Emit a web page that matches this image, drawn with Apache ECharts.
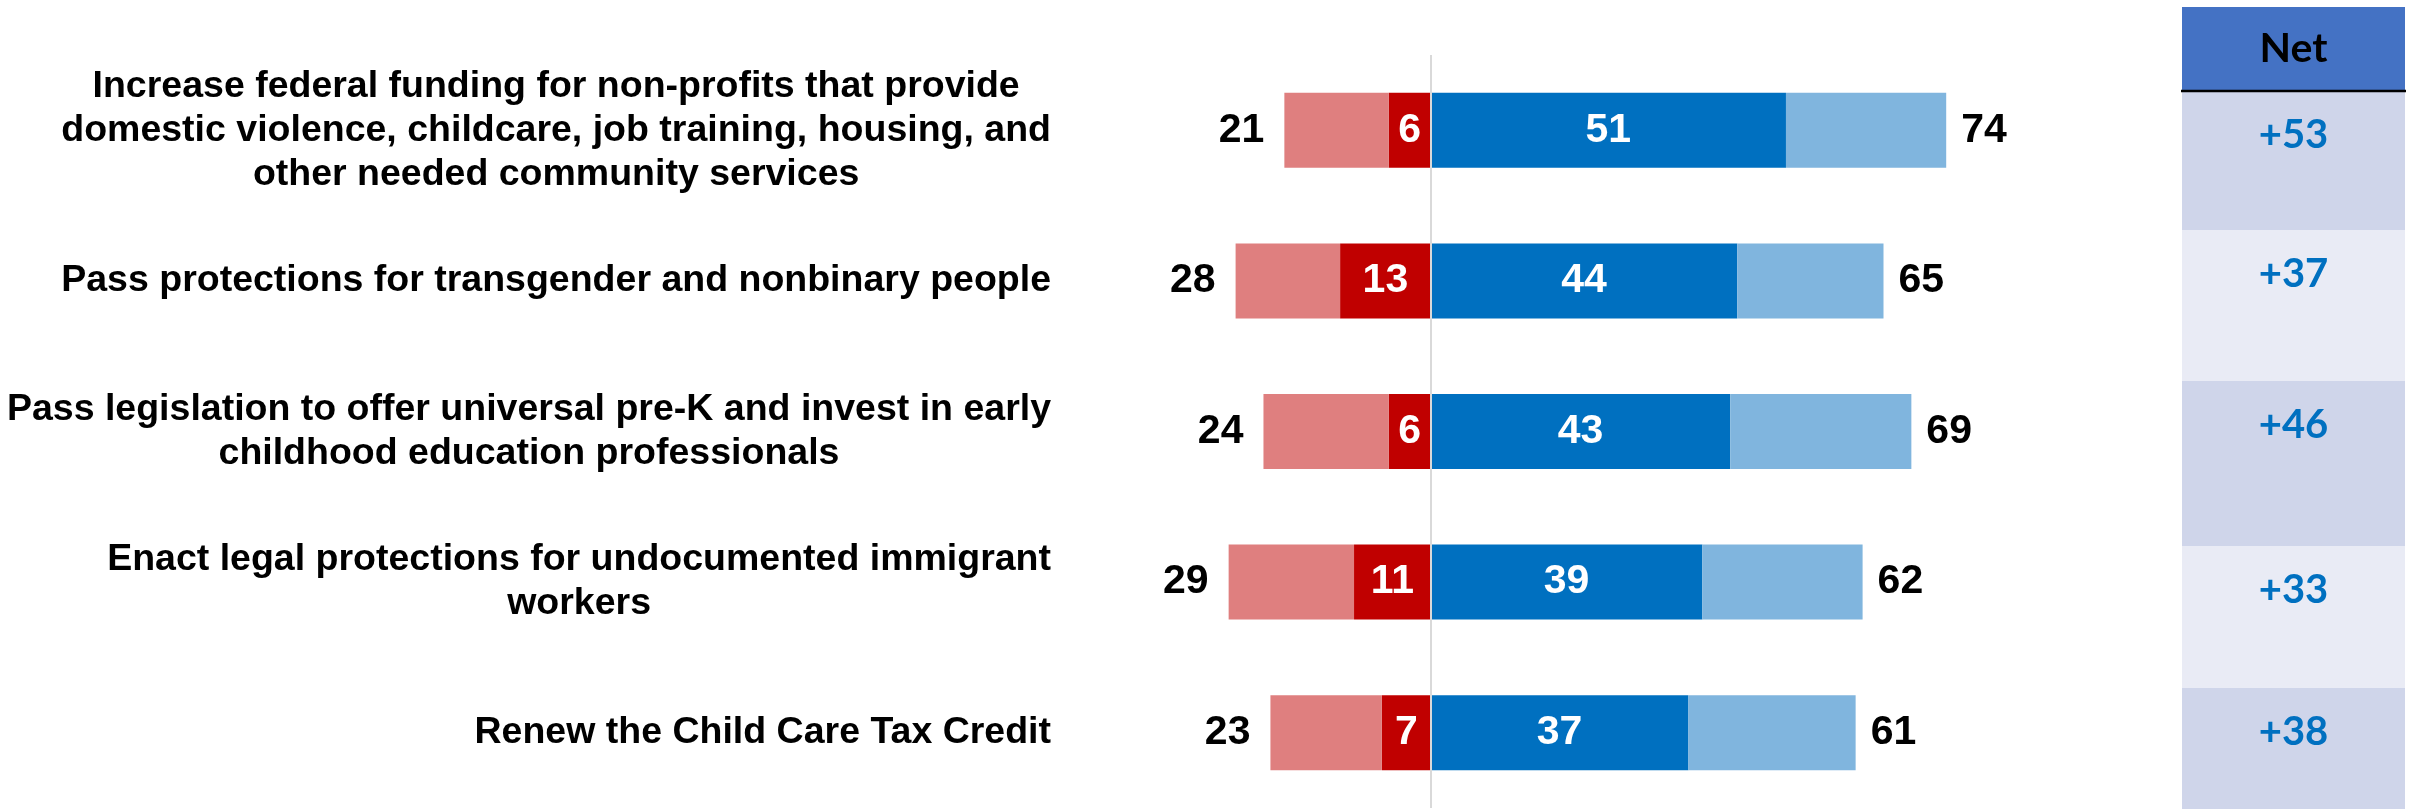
<!DOCTYPE html>
<html>
<head>
<meta charset="utf-8">
<script src="https://cdn.jsdelivr.net/npm/echarts@6/dist/echarts.min.js"></script>
<style>
  html, body { margin: 0; padding: 0; background: #ffffff; }
  #chart { width: 2413px; height: 809px; }
</style>
</head>
<body>
<div id="chart"></div>
<script>
// Policy statements (line breaks as they wrap on the slide)
const categories = [
  'Increase federal funding for non-profits that provide\ndomestic violence, childcare, job training, housing, and\nother needed community services',
  'Pass protections for transgender and nonbinary people',
  'Pass legislation to offer universal pre-K and invest in early\nchildhood education professionals',
  'Enact legal protections for undocumented immigrant\nworkers',
  'Renew the Child Care Tax Credit'
];

// Percentages
const strongOppose  = [6, 13, 6, 11, 7];
const totalOppose   = [21, 28, 24, 29, 23];
const strongSupport = [51, 44, 43, 39, 37];
const totalSupport  = [74, 65, 69, 62, 61];
const netScores     = [53, 37, 46, 33, 38];
const netHeader = 'Net';

// Derived segments: the lighter parts are total minus strong
const somewhatOppose  = totalOppose.map((v, i) => v - strongOppose[i]);
const somewhatSupport = totalSupport.map((v, i) => v - strongSupport[i]);

const NUM_FONT = '"Liberation Sans", Arial, sans-serif';
const NET_FONT = 'Lato, "Open Sans", sans-serif';

const valueLabel = {
  fontFamily: NUM_FONT,
  fontWeight: 'bold',
  fontSize: 41
};

// Net table layout (pixel rows of the side table)
const tableX = 2182, tableW = 223;
const headerTop = 7, headerBottom = 91;
const rowEdges = [91, 230, 381, 546, 688, 809];
const rowFills = ['#CFD5EA', '#E9EBF5'];

const chart = echarts.init(document.getElementById('chart'), null, { renderer: 'canvas' });

const tableGraphics = [];
tableGraphics.push({
  type: 'rect',
  shape: { x: tableX, y: headerTop, width: tableW, height: headerBottom - headerTop },
  style: { fill: '#4472C4' },
  silent: true
});
tableGraphics.push({
  type: 'text',
  x: tableX + tableW / 2,
  y: (headerTop + headerBottom) / 2,
  style: {
    text: netHeader, fill: '#000000', font: 'bold 41px ' + NET_FONT,
    textAlign: 'center', textVerticalAlign: 'middle'
  },
  silent: true
});
netScores.forEach((v, i) => {
  const top = rowEdges[i], bottom = rowEdges[i + 1];
  tableGraphics.push({
    type: 'rect',
    shape: { x: tableX, y: top, width: tableW, height: bottom - top },
    style: { fill: rowFills[i % 2] },
    silent: true
  });
  tableGraphics.push({
    type: 'text',
    x: tableX + tableW / 2,
    y: top + 44,
    style: {
      text: (v > 0 ? '+' : '') + v, fill: '#0070C0', font: 'bold 40px ' + NET_FONT,
      textAlign: 'center', textVerticalAlign: 'middle'
    },
    silent: true
  });
});
tableGraphics.push({
  type: 'line',
  shape: { x1: tableX - 1, y1: headerBottom, x2: tableX + tableW + 1, y2: headerBottom },
  style: { stroke: '#000000', lineWidth: 2.5 },
  silent: true
});

const option = {
  animation: false,
  backgroundColor: '#ffffff',
  grid: { left: 1152, width: 836, top: 55, bottom: 1, containLabel: false },
  xAxis: {
    type: 'value', min: -40, max: 80,
    show: false
  },
  yAxis: {
    type: 'category',
    inverse: true,
    data: categories,
    axisLine: { show: false },
    axisTick: { show: false },
    splitLine: { show: false },
    axisLabel: {
      interval: 0,
      margin: 101,
      formatter: (val) => '{c|' + val + '}',
      rich: {
        c: {
          align: 'center',
          fontFamily: NUM_FONT,
          fontWeight: 'bold',
          fontSize: 37.5,
          lineHeight: 44,
          color: '#000000'
        }
      }
    }
  },
  series: [
    {
      name: 'Strongly oppose', type: 'bar', stack: 'all', barWidth: 75,
      data: strongOppose.map(v => -v),
      itemStyle: { color: '#C00000' },
      label: Object.assign({ show: true, position: 'inside', color: '#ffffff',
        formatter: p => strongOppose[p.dataIndex] }, valueLabel)
    },
    {
      name: 'Total oppose', type: 'bar', stack: 'all', barWidth: 75,
      data: somewhatOppose.map(v => -v),
      itemStyle: { color: '#DF7F7F' },
      label: Object.assign({ show: true, position: 'left', distance: 20, color: '#000000',
        formatter: p => totalOppose[p.dataIndex] }, valueLabel)
    },
    {
      name: 'Strongly support', type: 'bar', stack: 'all', barWidth: 75,
      data: strongSupport,
      itemStyle: { color: '#0070C0' },
      label: Object.assign({ show: true, position: 'inside', color: '#ffffff',
        formatter: p => strongSupport[p.dataIndex] }, valueLabel)
    },
    {
      name: 'Total support', type: 'bar', stack: 'all', barWidth: 75,
      data: somewhatSupport,
      itemStyle: { color: '#80B5DE' },
      label: Object.assign({ show: true, position: 'right', distance: 15, color: '#000000',
        formatter: p => totalSupport[p.dataIndex] }, valueLabel),
      markLine: {
        silent: true, symbol: 'none', z: 10,
        lineStyle: { color: '#D9D9D9', width: 2, type: 'solid' },
        label: { show: false },
        data: [{ xAxis: 0 }]
      }
    }
  ],
  graphic: { elements: tableGraphics }
};

chart.setOption(option);
</script>
</body>
</html>
